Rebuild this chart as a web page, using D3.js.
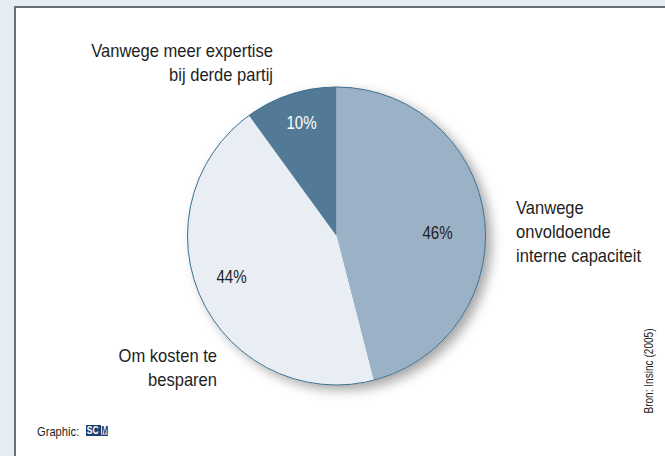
<!DOCTYPE html>
<meta charset="utf-8" />
<style>
  body {
    margin: 0px;
    background: #e4eef4;
  }
  svg {
    display: block;
  }
  text {
    font-family: "Liberation Sans", Arial, sans-serif;
    fill: #1e1e1e;
  }
</style>
<body>
<div id="chart"></div>
<script src="https://cdn.jsdelivr.net/npm/d3@7"></script>
<script>
  var width = 665,
    height = 456;

  // share of each reason, clockwise from 12 o'clock
  var categories = [
    ["Vanwege", "onvoldoende", "interne capaciteit"],
    ["Om kosten te", "besparen"],
    ["Vanwege meer expertise", "bij derde partij"],
  ];
  var values = [46, 44, 10];
  var colors = ["#9bb1c6", "#e8eef3", "#527a97"];
  var valueLabels = ["46%", "44%", "10%"];

  var svg = d3
    .select("#chart")
    .append("svg")
    .attr("width", width)
    .attr("height", height);

  // condensed look: regular font squeezed horizontally
  function addText(parent, x, y, lines, anchor, size, squeeze, lineH) {
    var t = parent
      .append("g")
      .attr("transform", "translate(" + x + "," + y + ") scale(" + squeeze + ",1)")
      .append("text")
      .attr("text-anchor", anchor)
      .style("font-size", size + "px");
    lines.forEach(function (line, i) {
      t.append("tspan")
        .attr("x", 0)
        .attr("y", i * (lineH || 0))
        .text(line);
    });
    return t;
  }

  var defs = svg.append("defs");
  defs
    .append("filter")
    .attr("id", "shadow")
    .attr("x", "-20%")
    .attr("y", "-20%")
    .attr("width", "140%")
    .attr("height", "140%")
    .append("feDropShadow")
    .attr("dx", 6)
    .attr("dy", 5)
    .attr("stdDeviation", 6)
    .attr("flood-color", "#000")
    .attr("flood-opacity", 0.35);

  // white panel with the grey frame
  svg
    .append("rect")
    .attr("x", 14)
    .attr("y", 6)
    .attr("width", width - 14)
    .attr("height", height - 6)
    .attr("fill", "#fff");
  svg
    .append("path")
    .attr("d", "M15,456V7H665")
    .attr("fill", "none")
    .attr("stroke", "#6b6f72")
    .attr("stroke-width", 2);

  var cx = 336.5,
    cy = 236,
    r = 149;

  var pie = d3.pie().sort(null).value(function (d) {
    return d;
  });
  var arcs = pie(values);
  var arc = d3.arc().innerRadius(0).outerRadius(r);

  var g = svg.append("g").attr("transform", "translate(" + cx + "," + cy + ")");

  g.append("circle")
    .attr("r", r)
    .attr("fill", "#fff")
    .attr("filter", "url(#shadow)");

  g.selectAll("path.slice")
    .data(arcs)
    .enter()
    .append("path")
    .attr("class", "slice")
    .attr("d", arc)
    .attr("fill", function (d, i) {
      return colors[i];
    });

  g.append("circle")
    .attr("r", r)
    .attr("fill", "none")
    .attr("stroke", "#3d6f90")
    .attr("stroke-width", 1);

  // percentages inside slices
  var pctPos = [
    [101, 3],
    [-105, 47],
    [-35, -107],
  ];
  arcs.forEach(function (d, i) {
    addText(g, pctPos[i][0], pctPos[i][1], [valueLabels[i]], "middle", 18, 0.84).style(
      "fill",
      i == 2 ? "#fff" : "#1e1e1e"
    );
  });

  // category labels
  var labelPos = [
    { x: 516, y: 214, anchor: "start" },
    { x: 217, y: 362, anchor: "end" },
    { x: 273, y: 57, anchor: "end" },
  ];
  categories.forEach(function (lines, i) {
    var l = labelPos[i];
    addText(svg, l.x, l.y, lines, l.anchor, 18, 0.92, 24);
  });

  // footer
  addText(svg, 37, 436, ["Graphic:"], "start", 13, 0.86);
  var logo = svg.append("g").attr("transform", "translate(86,425)");
  logo.append("rect").attr("width", 15).attr("height", 11).attr("fill", "#1c3f6e");
  logo.append("rect").attr("x", 15).attr("y", 9.5).attr("width", 7).attr("height", 1.5).attr("fill", "#1c3f6e");
  logo
    .append("text")
    .attr("x", 1)
    .attr("y", 9.5)
    .attr("transform", "scale(0.85,1)")
    .style("font-size", "10px")
    .style("font-weight", "bold")
    .style("fill", "#fff")
    .text("SC");
  logo
    .append("text")
    .attr("x", 18)
    .attr("y", 9)
    .attr("transform", "scale(0.85,1)")
    .style("font-size", "10px")
    .style("font-weight", "bold")
    .style("fill", "#1c3f6e")
    .text("M");

  svg
    .append("g")
    .attr("transform", "translate(653,371) rotate(-90) scale(0.84,1)")
    .append("text")
    .attr("text-anchor", "middle")
    .style("font-size", "12px")
    .text("Bron: Insinc (2005)");
</script>
</body>
